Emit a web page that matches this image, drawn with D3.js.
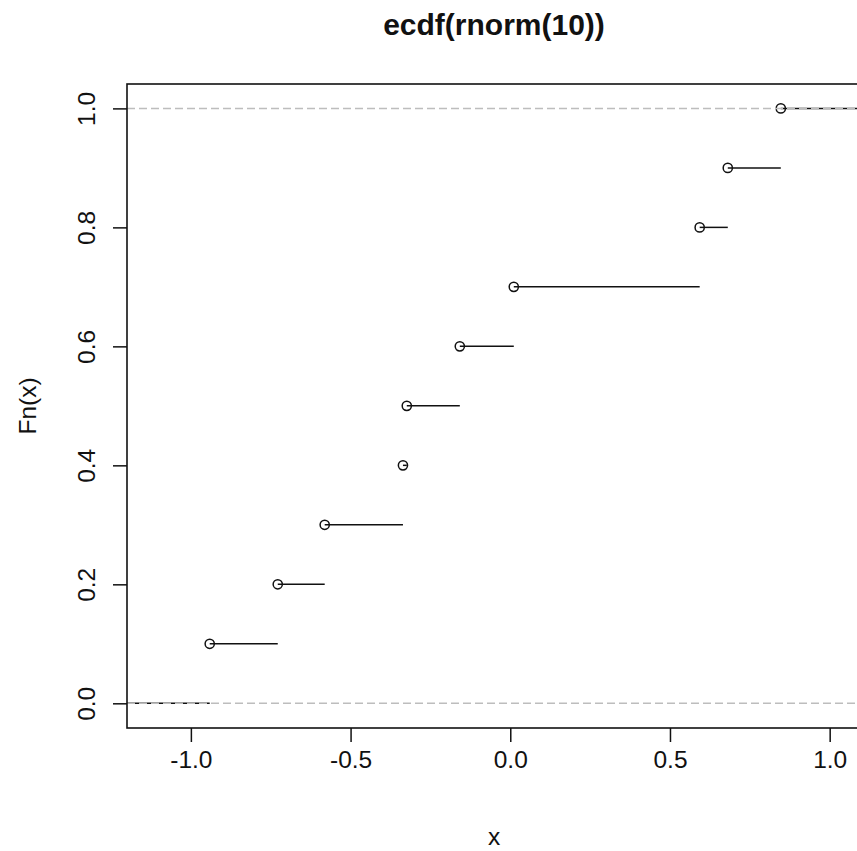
<!DOCTYPE html>
<html>
<head>
<meta charset="utf-8">
<script src="https://cdn.jsdelivr.net/npm/d3@7"></script>
<style>
  html, body { margin: 0; padding: 0; background: #fff; }
  svg { display: block; }
  text { font-family: "Liberation Sans", Arial, sans-serif; fill: #111; }
</style>
</head>
<body>
<svg id="chart" width="857" height="851"></svg>
<script>
// Sorted sample of ten standard-normal draws and the ECDF levels at each jump
const sampleX = [-0.941, -0.728, -0.581, -0.336, -0.324, -0.158, 0.011, 0.593, 0.681, 0.847];
const ecdfY = [0.1, 0.2, 0.3, 0.4, 0.5, 0.6, 0.7, 0.8, 0.9, 1.0];
const xTicks = [-1.0, -0.5, 0.0, 0.5, 1.0];
const yTicks = [0.0, 0.2, 0.4, 0.6, 0.8, 1.0];
const refLines = [0, 1];
const titleText = "ecdf(rnorm(10))";
const xLabel = "x";
const yLabel = "Fn(x)";

const svg = d3.select("#chart");
const plot = { left: 127, top: 84, bottom: 728, right: 868 };

const x = d3.scaleLinear().domain([-1.2, 1.12]).range([plot.left, plot.right]);
const y = d3.scaleLinear().domain([-0.0415, 1.041]).range([plot.bottom, plot.top]);

svg.append("defs").append("clipPath").attr("id", "plotClip")
  .append("rect")
  .attr("x", plot.left).attr("y", plot.top)
  .attr("width", plot.right - plot.left).attr("height", plot.bottom - plot.top);

const g = svg.append("g").attr("clip-path", "url(#plotClip)");

// horizontal steps: (-inf, x1) at 0, [xi, xi+1) at i/n, [xn, inf) at 1
const [d0, d1] = x.domain();
const steps = [{ x0: d0 - 1, x1: sampleX[0], y: 0 }];
sampleX.forEach((v, i) => {
  steps.push({ x0: v, x1: i + 1 < sampleX.length ? sampleX[i + 1] : d1 + 1, y: ecdfY[i] });
});

g.selectAll("line.step").data(steps).join("line")
  .attr("class", "step")
  .attr("x1", d => x(d.x0)).attr("x2", d => x(d.x1))
  .attr("y1", d => y(d.y)).attr("y2", d => y(d.y))
  .attr("stroke", "#111").attr("stroke-width", 1.5);

// open circles at each jump
g.selectAll("circle.pt").data(sampleX).join("circle")
  .attr("class", "pt")
  .attr("cx", d => x(d)).attr("cy", (d, i) => y(ecdfY[i]))
  .attr("r", 4.6)
  .attr("fill", "none").attr("stroke", "#111").attr("stroke-width", 1.5);

// dashed reference lines at 0 and 1
g.selectAll("line.ref").data(refLines).join("line")
  .attr("class", "ref")
  .attr("x1", plot.left).attr("x2", plot.right)
  .attr("y1", d => y(d)).attr("y2", d => y(d))
  .attr("stroke", "#bdbdbd").attr("stroke-width", 1.5)
  .attr("stroke-dasharray", "8,4");

// plot frame
svg.append("rect")
  .attr("x", plot.left).attr("y", plot.top)
  .attr("width", plot.right - plot.left).attr("height", plot.bottom - plot.top)
  .attr("fill", "none").attr("stroke", "#111").attr("stroke-width", 1.6);

// x axis
const xAxis = svg.append("g")
  .attr("transform", `translate(0,${plot.bottom})`)
  .call(d3.axisBottom(x).tickValues(xTicks).tickSize(14).tickPadding(9));
xAxis.select(".domain").remove();
xAxis.selectAll(".tick line").attr("stroke", "#111").attr("stroke-width", 1.5);
xAxis.selectAll(".tick text")
  .attr("font-size", 24.5).attr("fill", "#111")
  .attr("font-family", "Liberation Sans, Arial, sans-serif")
  .text(d => d3.format(".1f")(d).replace("\u2212", "-"));

// y axis with rotated labels
const yAxis = svg.append("g")
  .attr("transform", `translate(${plot.left},0)`)
  .call(d3.axisLeft(y).tickValues(yTicks).tickFormat(d3.format(".1f")).tickSize(14));
yAxis.select(".domain").remove();
yAxis.selectAll(".tick line").attr("stroke", "#111").attr("stroke-width", 1.5);
yAxis.selectAll(".tick text")
  .attr("font-size", 24.5).attr("fill", "#111")
  .attr("font-family", "Liberation Sans, Arial, sans-serif")
  .attr("x", null).attr("dy", null)
  .attr("text-anchor", "middle")
  .attr("transform", "translate(-32,0) rotate(-90)");

// title and axis labels
svg.append("text")
  .attr("x", 494).attr("y", 35)
  .attr("text-anchor", "middle")
  .attr("font-size", 30).attr("font-weight", "bold")
  .text(titleText);

svg.append("text")
  .attr("x", 494).attr("y", 845)
  .attr("text-anchor", "middle")
  .attr("font-size", 24.5)
  .text(xLabel);

svg.append("text")
  .attr("transform", `translate(36,${(plot.top + plot.bottom) / 2}) rotate(-90)`)
  .attr("text-anchor", "middle")
  .attr("font-size", 24.5)
  .text(yLabel);
</script>
</body>
</html>
